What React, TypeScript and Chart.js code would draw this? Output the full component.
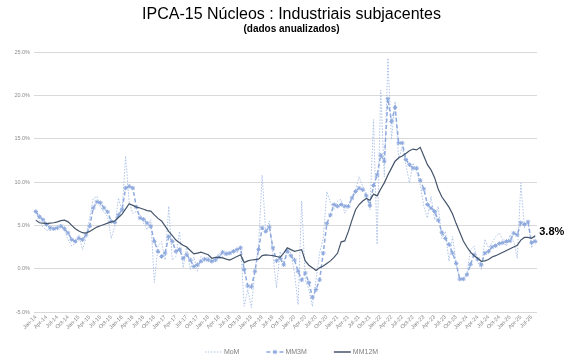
import React, { useEffect, useRef } from 'react';
import { Chart, registerables } from 'chart.js';

Chart.register(...registerables);

const MONTH_NAMES = ['Jan', 'Feb', 'Mar', 'Apr', 'May', 'Jun', 'Jul', 'Aug', 'Sep', 'Oct', 'Nov', 'Dec'];
const YEAR_SUFFIXES = ['14', '15', '16', '17', '18', '19', '20', '21', '22', '23', '24', '25'];
const MONTHS_IN_LAST_YEAR = 8;

const CATEGORIES: string[] = [];
YEAR_SUFFIXES.forEach((y, yi) => {
  const n = yi === YEAR_SUFFIXES.length - 1 ? MONTHS_IN_LAST_YEAR : 12;
  for (let m = 0; m < n; m++) CATEGORIES.push(`${MONTH_NAMES[m]}-${y}`);
});

// annualized monthly change (%)
const MOM_VALUES = [
  6.5, 5.6, 4.8, 4.45, 4.4, 4.6, 4.9, 5.1, 4.4, 3.35, 2.6, 2.95,
  3.9, 2.2, 3.6, 5.8, 8.1, 8.35, 7.1, 6.5, 6.0, 3.5, 4.9, 8.15,
  6.6, 13.0, 7.6, 6.4, 6.6, 6.2, 5.25, 4.5, 5.65, -1.6, 2.6, 3.15,
  1.0, 7.2, 1.0, 1.4, 4.3, 0.1, 2.6, -0.1, 1.35, -0.3, 1.4, 0.85,
  1.35, 0.65, 1.2, 1.8, 1.4, 2.0, 1.6, 2.2, 1.8, 2.7, -4.35, -2.4,
  -4.5, -0.1, 2.6, 10.8, 4.1, 5.5, 1.5, -2.2, 2.0, 0.65, 2.3, 1.8,
  -0.5, -4.15, 7.8, -1.3, -2.4, -4.35, -1.3, 1.8, 3.5, 8.9, 7.6, 6.8,
  7.8, 8.0, 6.4, 7.2, 8.35, 9.1, 10.6, 9.5, 8.7, 6.8, 17.2, 2.8,
  20.6, 10.6, 24.3, 14.9, 19.3, 12.6, 14.1, 12.0, 9.9, 12.2, 11.2, 9.7,
  7.2, 5.85, 8.35, 5.65, 7.2, 3.5, 4.3, 0.85, 3.7, 0.65, -1.3, -1.3,
  -0.5, 2.2, 2.6, 0.8, -0.1, 3.4, 2.4, 3.0, 3.7, 4.1, 3.35, 2.6,
  3.9, 3.15, 1.2, 9.9, 4.7, 5.45, 2.4, 3.9,
];

// 3-month moving average, annualized (%)
const MM3M_VALUES = [
  6.6, 6.0, 5.65, 5.1, 4.7, 4.6, 4.7, 4.9, 4.6, 4.1, 3.35, 3.15,
  3.5, 3.35, 3.9, 4.9, 7.0, 7.7, 7.6, 7.0, 6.55, 5.45, 5.35, 6.2,
  6.8, 9.3, 9.5, 9.3, 7.1, 5.85, 5.7, 5.25, 4.9, 3.15, 2.0, 1.4,
  1.8, 3.7, 3.15, 2.0, 2.2, 1.2, 1.6, 1.0, 0.25, 0.45, 0.85, 1.1,
  1.0, 0.85, 1.0, 1.35, 1.9, 1.7, 1.8, 2.0, 2.2, 2.4, -0.1, -2.0,
  -2.1, -0.3, 2.2, 4.7, 4.3, 4.8, 2.4, 0.9, 1.2, 0.45, 2.0, 1.5,
  1.0, -0.3, -1.3, -0.5, -1.6, -3.3, -2.4, -1.3, 1.8, 5.2, 6.2, 7.4,
  7.2, 7.4, 7.2, 7.2, 8.15, 8.9, 9.3, 9.1, 8.4, 7.3, 9.6, 10.8,
  13.1, 12.4, 19.6, 17.0, 18.6, 14.5, 14.5, 12.6, 12.0, 11.6, 11.6, 10.2,
  9.2, 7.4, 7.0, 6.6, 5.6, 4.2, 3.5, 2.8, 1.8, 0.6, -1.2, -1.2,
  -0.7, 0.5, 1.6, 1.1, 0.45, 1.8, 2.0, 2.5, 2.65, 2.9, 3.0, 3.15,
  3.2, 4.1, 3.9, 5.3, 5.1, 5.4, 3.0, 3.15,
];

// 12-month accumulated (%)
const MM12M_VALUES = [
  5.6, 5.3, 5.25, 5.2, 5.25, 5.3, 5.4, 5.55, 5.6, 5.4, 5.0, 4.6,
  4.35, 4.15, 4.1, 4.3, 4.55, 4.8, 4.95, 5.1, 5.25, 5.4, 5.5, 5.9,
  6.3, 6.9, 7.5, 7.3, 7.1, 7.0, 6.85, 6.7, 6.65, 6.2, 5.8, 5.5,
  4.9, 4.3, 3.8, 3.3, 3.0, 2.7, 2.5, 2.1, 1.7, 1.8, 1.9, 1.75,
  1.6, 1.2, 1.3, 1.3, 1.25, 1.1, 1.0, 1.2, 1.4, 1.6, 0.7, 0.9,
  1.0, 1.05, 1.1, 1.5, 1.6, 1.55, 1.5, 1.4, 1.3, 1.8, 2.4, 2.2,
  2.0, 2.1, 2.2, 0.9, 0.4, 0.1, -0.2, 0.1, 0.3, 0.6, 0.9, 1.3,
  1.8, 3.1, 3.2, 4.3, 5.6, 6.8, 7.4, 7.8, 8.1, 7.9, 8.6, 8.4,
  9.2, 9.9, 10.8, 11.6, 12.4, 12.8, 13.0, 13.3, 13.6, 13.8, 13.7, 14.0,
  13.0, 12.0, 11.4, 10.5, 9.2, 8.3, 7.7, 7.1, 6.3, 5.2, 4.2, 3.2,
  2.5, 1.9, 1.5, 1.2, 0.85, 0.9, 1.05, 1.35, 1.5, 1.7, 1.9, 2.1,
  2.3, 2.5, 2.7, 3.3, 3.6, 3.6, 3.5, 3.8,
];

const SERIES_NAMES = ['MoM', 'MM3M', 'MM12M'];
const Y_MIN = -5;
const Y_MAX = 25;
const Y_STEP = 5;
const LABEL_EVERY = 3;
const TITLE = 'IPCA-15 Núcleos : Industriais subjacentes';
const SUBTITLE = '(dados anualizados)';

const FONT = '"Liberation Sans", Arial, sans-serif';
const COLOR_MOM = '#AEC3E8';
const COLOR_MM3M = '#8EA9DD';
const COLOR_MM12M = '#44546A';
const TEXT_GREY = '#7F7F7F';

const SERIES_STYLES = [
  { color: COLOR_MOM, width: 1, dash: [1.5, 1.5], marker: false },
  { color: COLOR_MM3M, width: 1.5, dash: [4, 2.5], marker: true },
  { color: COLOR_MM12M, width: 1.5, dash: [] as number[], marker: false },
];

function drawStar(ctx: CanvasRenderingContext2D, x: number, y: number, r: number, color: string) {
  ctx.save();
  ctx.strokeStyle = color;
  ctx.lineWidth = 1;
  ctx.setLineDash([]);
  ctx.beginPath();
  ctx.moveTo(x - r, y); ctx.lineTo(x + r, y);
  ctx.moveTo(x, y - r); ctx.lineTo(x, y + r);
  const d = r * 0.7071;
  ctx.moveTo(x - d, y - d); ctx.lineTo(x + d, y + d);
  ctx.moveTo(x - d, y + d); ctx.lineTo(x + d, y - d);
  ctx.stroke();
  ctx.restore();
}

const overlayPlugin = {
  id: 'overlay',
  afterDatasetsDraw(chart: any) {
    const meta = chart.getDatasetMeta(2);
    const pt = meta.data[meta.data.length - 1];
    if (!pt) return;
    const last = MM12M_VALUES[MM12M_VALUES.length - 1];
    const ctx = chart.ctx as CanvasRenderingContext2D;
    ctx.save();
    ctx.font = `bold 11px ${FONT}`;
    ctx.fillStyle = '#000000';
    ctx.textAlign = 'left';
    ctx.textBaseline = 'middle';
    ctx.fillText(`${last.toFixed(1)}%`, pt.x + 4, pt.y - 4);
    ctx.restore();
  },
  afterDraw(chart: any) {
    // legend at the bottom (line samples as in the original)
    const ctx = chart.ctx as CanvasRenderingContext2D;
    ctx.save();
    ctx.font = `7px ${FONT}`;
    const sampleW = 17;
    const textGap = 2;
    const itemGap = 27;
    const widths = SERIES_NAMES.map((t) => sampleW + textGap + ctx.measureText(t).width);
    const total = widths.reduce((a, b) => a + b, 0) + itemGap * (SERIES_NAMES.length - 1);
    let x = (chart.width - total) / 2;
    const y = chart.height - 11;
    SERIES_NAMES.forEach((name, i) => {
      const st = SERIES_STYLES[i];
      ctx.save();
      ctx.strokeStyle = st.color;
      ctx.lineWidth = st.width;
      ctx.setLineDash(st.dash);
      ctx.beginPath();
      ctx.moveTo(x, y);
      ctx.lineTo(x + sampleW, y);
      ctx.stroke();
      ctx.restore();
      if (st.marker) drawStar(ctx, x + sampleW / 2, y, 2.2, st.color);
      ctx.fillStyle = TEXT_GREY;
      ctx.textAlign = 'left';
      ctx.textBaseline = 'middle';
      ctx.fillText(name, x + sampleW + textGap, y);
      x += widths[i] + itemGap;
    });
    ctx.restore();
  },
};

export default function App() {
  const canvasRef = useRef<HTMLCanvasElement | null>(null);

  useEffect(() => {
    document.body.style.margin = '0';
    const canvas = canvasRef.current;
    if (!canvas) return;
    const chart = new Chart(canvas, {
      type: 'line',
      data: {
        labels: CATEGORIES,
        datasets: [
          {
            label: SERIES_NAMES[0],
            data: MOM_VALUES,
            borderColor: COLOR_MOM,
            backgroundColor: COLOR_MOM,
            borderWidth: 1,
            borderDash: [1.5, 1.5],
            pointRadius: 0,
            tension: 0,
            order: 3,
          },
          {
            label: SERIES_NAMES[1],
            data: MM3M_VALUES,
            borderColor: COLOR_MM3M,
            backgroundColor: COLOR_MM3M,
            borderWidth: 1.5,
            borderDash: [4, 2.5],
            pointStyle: 'star',
            pointRadius: 2.2,
            pointBorderWidth: 1,
            pointBorderColor: COLOR_MM3M,
            pointBackgroundColor: COLOR_MM3M,
            tension: 0,
            order: 2,
          },
          {
            label: SERIES_NAMES[2],
            data: MM12M_VALUES,
            borderColor: COLOR_MM12M,
            backgroundColor: COLOR_MM12M,
            borderWidth: 1.2,
            pointRadius: 0,
            tension: 0,
            order: 1,
          },
        ],
      },
      options: {
        responsive: false,
        animation: false,
        devicePixelRatio: 1,
        layout: { padding: { left: 0, right: 0, top: 0, bottom: 25 } },
        plugins: {
          tooltip: { enabled: false },
          legend: { display: false },
          title: {
            display: true,
            text: TITLE,
            color: '#000000',
            font: { family: FONT, size: 16, weight: 'normal', lineHeight: 1.0 },
            padding: { top: 7, bottom: 0 },
          },
          subtitle: {
            display: true,
            text: SUBTITLE,
            color: '#000000',
            font: { family: FONT, size: 10, weight: 'bold', lineHeight: 1.0 },
            padding: { top: 1, bottom: 18 },
          },
        },
        scales: {
          x: {
            offset: true,
            grid: { display: false, drawTicks: false },
            border: { display: false },
            ticks: {
              autoSkip: false,
              maxRotation: 45,
              minRotation: 45,
              padding: 2,
              color: TEXT_GREY,
              font: { family: FONT, size: 5.5 },
              callback: function (this: any, val: any, idx: number) {
                return idx % LABEL_EVERY === 0 ? this.getLabelForValue(val) : '';
              },
            },
            afterFit: (s: any) => { s.height = 26; },
          },
          y: {
            min: Y_MIN,
            max: Y_MAX,
            grid: { color: '#D9D9D9', lineWidth: 1, drawTicks: false },
            border: { display: false },
            ticks: {
              stepSize: Y_STEP,
              padding: 4,
              color: '#8C8C8C',
              font: { family: FONT, size: 5.5 },
              callback: (v: any) => `${Number(v).toFixed(1)}%`,
            },
            afterFit: (s: any) => { s.width = 34; },
          },
          yRight: {
            type: 'linear',
            position: 'right',
            display: true,
            grid: { display: false, drawTicks: false },
            border: { display: false },
            ticks: { display: false },
            afterFit: (s: any) => { s.width = 46; },
          },
        },
      },
      plugins: [overlayPlugin],
    } as any);
    return () => chart.destroy();
  }, []);

  return (
    <div style={{ width: 583, height: 363, background: '#ffffff' }}>
      <canvas ref={canvasRef} width={583} height={363} style={{ display: 'block' }} />
    </div>
  );
}
